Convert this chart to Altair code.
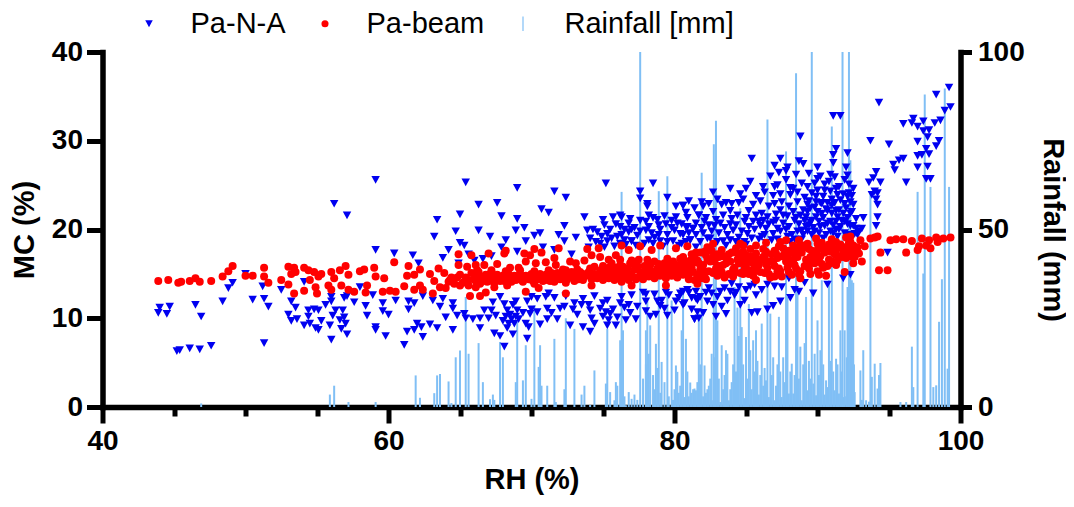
import altair as alt
import pandas as pd

# (RH %, MC %)
pa_na_left = [(43.9,10.6),(44.0,11.2),(44.5,10.5),(44.7,11.3),(45.2,6.3),(45.4,6.4),(46.1,6.6),(46.8,6.5),(47.6,6.9),(46.5,11.5),(46.9,10.2),(48.4,11.9),(48.8,13.4),(49.1,14.0),(50.0,15.0),(50.5,12.1),(51.3,12.2),(51.2,13.6),(51.6,11.3),(51.3,7.2),(52.5,13.2),(53.2,11.9),(53.5,11.2),(53.0,10.4),(53.2,9.7),(53.6,9.9),(54.1,9.2),(54.1,14.1),(54.4,10.9),(54.4,10.2),(54.5,9.4),(54.8,11.0),(55.1,10.9),(54.9,8.9),(55.1,8.7),(55.3,9.7),(55.9,9.2),(56.0,7.6),(56.1,10.3),(56.0,11.9),(56.0,12.4),(55.6,11.5),(56.3,10.9),(56.8,10.9),(56.9,10.1),(56.6,9.8),(57.0,9.4),(56.7,8.8),(57.1,8.2),(56.9,12.3),(57.1,12.5),(57.6,11.8),(58.0,13.5),(58.4,11.4),(58.5,10.3),(58.9,12.6),(59.1,9.0),(59.1,8.7),(59.6,11.7),(59.6,10.8),(60.0,10.4),(59.8,8.0),(60.5,12.0),(56.2,22.9),(57.1,21.6),(59.1,25.6),(59.1,17.7),(60.4,17.3)]
pa_na_mid_top = [(65.4,25.3),(69.0,24.7),(71.6,24.3),(72.4,23.6),(75.2,25.2),(77.6,24.3),(78.5,25.2),(77.6,23.5),(78.1,22.9),(78.1,22.6),(79.5,23.6),(66.3,22.8),(67.6,23.0),(70.7,22.3),(71.2,21.9),(67.9,21.5),(65.0,21.7),(63.4,21.1),(69.0,21.2),(73.7,21.4),(75.7,21.4),(76.2,21.6),(76.3,21.4),(76.8,20.7),(77.6,21.0),(78.0,20.9),(78.8,21.1),(79.3,21.5),(80.1,21.4),(80.1,22.6),(80.6,22.7),(80.8,21.9),(81.7,21.6),(63.2,19.2),(64.7,19.8),(66.3,19.9),(67.1,19.2),(68.9,19.9),(69.5,20.2),(70.2,19.3),(70.6,19.6),(72.3,20.4),(71.9,19.4),(72.3,18.7),(73.1,19.1),(73.9,19.9),(74.6,19.7),(75.1,20.5),(75.3,19.5),(75.3,18.7),(76.2,20.3),(76.3,19.4),(76.8,19.7),(77.0,18.7),(78.0,19.9),(78.4,19.6),(78.6,19.1),(78.9,20.5),(79.5,18.6),(80.0,19.9),(80.6,19.4),(80.9,20.3),(81.5,19.4),(65.0,18.5),(65.3,18.2),(64.2,17.7),(61.7,17.1),(62.1,16.2),(68.2,18.8),(67.9,18.0),(69.6,18.7),(66.6,16.7),(64.9,16.2),(71.6,17.7),(74.1,19.0),(74.8,18.4),(76.2,18.4),(77.0,18.7),(78.2,18.8),(79.5,19.4),(81.1,18.8),(81.5,18.0),(74.3,20.0),(74.9,19.2),(75.8,18.1),(76.6,18.3),(77.4,19.3),(77.9,18.4),(78.9,19.4),(79.2,18.1),(79.9,18.7),(80.3,18.2),(80.5,20.6),(81.3,20.1)]
pa_na_mid_low = [(61.1,7.0),(61.3,8.5),(61.8,8.7),(62.0,9.4),(62.3,9.0),(62.9,9.3),(62.4,7.9),(63.4,8.9),(64.5,8.7),(61.4,11.9),(61.4,11.0),(61.8,11.7),(62.4,12.5),(63.1,12.0),(63.6,11.3),(63.8,12.2),(64.0,10.1),(64.5,11.7),(64.5,11.1),(64.8,10.3),(65.3,10.5),(65.4,10.0),(65.9,9.9),(66.4,10.0),(66.4,8.9),(67.0,10.0),(67.5,10.3),(67.4,8.3),(67.8,8.0),(68.1,6.8),(68.3,8.9),(68.7,8.2),(66.7,10.9),(67.3,11.8),(67.8,12.4),(68.3,10.9),(68.5,10.4),(68.8,9.4),(69.0,10.9),(68.9,11.9),(69.7,11.9),(69.6,9.4),(69.8,9.0),(69.7,7.7),(69.9,10.5),(70.4,12.2),(70.4,10.7),(70.6,9.3),(71.1,11.1),(71.1,9.9),(71.8,9.9),(71.2,12.8),(71.6,12.3),(72.3,11.3),(72.7,9.2),(73.0,11.7),(73.5,11.5),(73.6,9.0),(74.1,10.9),(74.1,8.5),(74.2,10.0),(74.8,11.1),(74.4,12.5),(75.3,12.0),(75.3,9.2),(75.5,10.5),(75.9,9.2),(76.2,11.7),(76.6,9.8),(76.8,11.5),(77.3,9.9),(77.4,11.3),(78.0,11.9),(78.3,10.2),(78.7,10.4),(78.8,11.9),(79.3,11.1),(79.5,10.3),(80.0,10.9),(80.6,11.5),(81.4,9.9),(81.7,10.0),(81.5,12.2),(68.2,10.2),(68.6,9.9),(68.4,9.4),(68.7,11.5),(70.0,11.0),(72.0,11.1),(72.9,11.0),(74.0,11.5),(75.2,10.7),(75.4,9.8),(75.7,11.0),(76.3,12.4),(77.0,12.6),(77.8,12.9),(78.6,12.7),(79.6,12.6),(80.3,12.3),(81.0,12.9)]
pa_na_right_top = [(99.2,36.0),(98.3,35.2),(99.3,33.8),(94.3,34.3),(98.9,33.4),(91.1,32.8),(91.6,32.8),(96.7,32.5),(96.0,31.9),(96.6,32.0),(97.4,32.2),(97.0,31.6),(97.4,31.1),(97.8,31.2),(98.2,32.0),(98.6,32.3),(97.7,30.4),(98.5,30.0),(98.3,29.4),(97.0,29.9),(97.6,29.1),(97.3,28.4),(97.0,28.3),(97.8,28.5),(88.8,30.5),(93.7,30.0),(95.0,29.6),(91.3,29.1),(91.1,28.4),(92.1,28.6),(85.4,28.0),(87.4,28.0),(88.7,27.7),(91.1,27.5),(96.0,28.0),(95.7,27.8),(95.3,27.3),(95.4,26.7),(97.0,27.0),(97.7,27.1),(87.0,27.2),(87.9,27.0),(87.8,26.6),(87.3,26.4),(89.4,26.3),(90.2,26.0),(90.9,26.2),(91.2,25.9),(92.1,26.1),(94.1,26.5),(93.9,25.8),(94.4,25.3),(93.6,25.3),(96.2,25.3),(97.6,25.7),(97.9,25.7),(89.8,25.2),(90.5,25.1),(91.5,24.8),(92.2,25.1),(92.5,24.6),(88.1,24.7),(86.2,24.8),(87.0,24.8),(82.7,24.2),(84.6,24.0),(85.7,23.8),(81.9,23.1),(84.8,23.4),(87.0,22.9),(87.4,24.0),(88.1,23.9),(88.6,23.1),(83.3,22.8),(80.6,22.7),(89.3,22.8),(90.9,24.3),(89.9,23.7),(92.1,23.7),(94.2,22.8),(94.0,24.3),(94.2,24.1),(93.8,23.9),(94.1,23.4),(94.2,21.4),(94.1,20.4),(93.2,21.3),(93.1,20.1),(92.5,22.8),(92.4,22.0),(92.3,23.1)]
pa_na_right_band = [(82.7,22.0),(83.9,22.1),(85.2,22.1),(86.1,21.8),(87.4,22.2),(87.6,21.6),(86.5,21.4),(88.5,21.3),(89.2,21.4),(89.5,22.4),(89.9,23.1),(90.4,21.3),(91.4,21.4),(91.8,21.8),(80.9,21.3),(81.7,21.6),(82.2,21.3),(82.9,21.1),(83.4,21.6),(84.4,21.6),(85.7,21.6),(80.8,20.3),(81.3,20.1),(82.0,19.6),(82.6,19.8),(83.2,20.7),(83.7,19.4),(84.3,20.5),(84.7,19.8),(85.2,20.3),(85.9,20.9),(86.4,20.1),(87.2,20.1),(88.0,20.3),(88.6,19.8),(89.2,20.3),(89.6,19.4),(90.1,20.9),(90.9,19.8),(91.6,20.3),(92.2,19.4),(92.7,20.1),(81.1,18.8),(81.8,18.6),(82.5,19.0),(83.6,18.2),(84.3,18.6),(85.4,19.0),(86.1,19.2),(86.8,18.8),(89.0,19.4),(89.8,19.8),(89.4,20.5),(90.7,20.7),(91.3,20.9),(87.9,19.2),(87.4,19.8),(84.7,18.2),(89.0,22.2),(89.6,21.0),(90.0,22.0),(90.3,22.9),(90.6,22.3),(91.0,21.8),(91.2,23.0),(91.5,22.2),(91.9,22.9),(92.1,21.3),(90.2,20.3),(90.6,19.4),(91.1,20.5),(91.9,20.9),(92.3,20.4),(88.3,22.0),(88.8,21.6),(86.9,20.8),(85.5,20.9),(84.9,20.9),(83.9,20.6),(82.4,20.5),(81.5,20.7),(89.9,18.9),(91.4,19.2),(92.8,19.4),(88.4,18.9),(83.0,18.6),(85.9,18.9)]
pa_na_right_low = [(94.9,17.4),(81.4,9.9),(81.6,10.7),(82.0,10.6),(82.9,10.2),(83.6,10.5),(81.6,12.0),(80.7,11.7),(82.7,11.5),(83.3,11.3),(83.7,12.0),(82.6,12.8),(81.5,13.0),(83.0,12.4),(83.9,13.0),(84.0,13.9),(84.6,11.5),(84.9,12.0),(85.0,13.2),(85.7,12.6),(85.4,10.6),(85.8,10.7),(86.5,11.0),(86.9,11.4),(87.4,11.9),(88.1,12.3),(88.4,13.2),(88.7,13.0),(87.5,13.5),(86.5,13.8),(89.7,12.8),(89.1,14.0),(90.7,13.8),(91.8,14.5),(92.3,14.9),(85.6,13.8),(80.6,13.0),(80.9,13.2),(81.8,12.4),(82.3,11.9),(83.2,13.0),(84.5,13.5),(88.0,14.5)]
pa_na_fill = [(75.0,21.1),(75.5,20.0),(75.9,20.6),(76.5,20.0),(76.9,21.2),(77.2,20.2),(77.6,19.8),(78.2,20.3),(78.5,21.3),(79.0,20.0),(79.4,20.6),(79.8,20.2),(80.2,20.7),(80.4,19.5),(80.8,18.6),(81.0,19.6),(81.9,20.2),(82.3,19.0),(82.8,20.4),(83.1,19.6),(83.5,20.2),(83.9,18.8),(84.1,19.9),(84.5,19.1),(84.9,18.6),(85.1,19.5),(85.6,20.0),(86.0,20.4),(86.3,19.4),(86.6,20.6),(86.9,19.5),(87.1,21.0),(87.6,20.7),(87.8,20.0),(88.2,19.4),(88.4,21.0),(88.7,20.6),(88.9,19.9),(89.1,21.0),(89.3,19.8),(89.5,20.8),(89.7,20.2),(89.9,21.4),(90.1,19.6),(90.3,21.8),(90.5,20.4),(90.7,22.1),(90.9,20.9),(91.1,19.6),(91.3,22.1),(91.5,20.0),(91.7,21.0),(91.9,19.6),(92.1,20.6),(92.3,21.8),(92.5,20.4),(92.6,19.5),(89.4,23.2),(90.0,24.4),(90.4,23.7),(90.7,23.0),(91.0,23.4),(91.4,23.9),(91.8,24.0),(92.0,22.4),(74.5,18.6),(75.1,18.0),(75.6,19.0),(76.0,19.2),(76.5,18.8),(77.3,18.2),(78.5,18.4),(79.0,18.7),(80.5,18.4),(83.4,18.7),(85.0,18.3),(86.4,18.5),(87.2,18.9),(88.1,18.6),(88.9,18.9),(90.4,19.0),(69.4,10.6),(68.9,10.2),(68.0,9.7),(69.1,9.9),(71.4,10.6),(73.2,10.4),(74.4,9.4),(75.0,10.2),(76.0,10.1),(76.9,10.6),(78.0,10.8),(79.1,12.0),(80.1,11.9),(81.2,11.0),(82.2,12.9),(84.2,12.6),(86.1,13.2),(87.0,13.6),(66.0,16.5),(63.8,16.8),(65.6,17.2),(67.2,17.0),(69.0,17.5),(70.8,18.0),(72.8,17.2),(74.0,18.0)]
pa_na_upper_cloud = [(82.0,22.6),(83.0,23.4),(84.0,22.9),(84.5,23.0),(85.0,24.6),(85.5,22.8),(86.0,23.2),(86.3,24.2),(86.6,22.6),(86.9,23.8),(87.2,25.0),(87.5,23.1),(87.8,25.6),(88.0,22.6),(88.3,24.6),(88.6,24.2),(88.9,25.2),(89.1,23.6),(89.3,24.8),(89.6,24.1),(89.8,22.5),(90.0,25.7),(90.2,23.0),(90.5,24.4),(90.8,25.4),(91.0,22.7),(91.3,24.6),(91.6,23.3),(91.9,25.6),(92.2,24.1),(92.4,23.8),(81.0,23.2),(81.4,22.4),(82.4,22.9),(83.6,23.0),(79.8,21.0),(78.2,21.6),(77.0,20.0),(88.5,26.2),(86.7,26.0),(85.3,25.4),(83.9,24.6),(89.0,27.4),(90.0,27.0),(92.0,27.0),(92.7,21.2),(92.9,19.8),(82.1,20.9),(84.0,21.2),(85.0,21.3),(86.2,21.0),(87.1,21.7),(87.9,21.5),(89.3,22.0),(91.3,20.0),(83.5,13.4),(84.3,12.9),(85.3,13.6),(82.4,13.4),(81.2,12.3),(80.4,12.8),(79.4,12.9),(79.0,11.4),(78.0,12.7),(76.5,11.2),(75.0,11.7),(73.6,12.2),(72.4,12.5),(71.0,12.4),(70.0,12.4),(68.1,11.6),(67.2,10.9)]

pa_beam_left = [(43.9,14.2),(44.6,14.3),(45.3,14.0),(45.5,14.1),(46.1,14.2),(46.5,14.5),(46.8,14.1),(47.6,14.2),(48.4,14.7),(48.8,15.3),(49.1,15.9),(50.0,14.8),(50.5,14.8),(51.3,15.7),(51.3,14.7),(51.6,14.0),(52.5,14.3),(53.0,13.8),(53.4,12.8),(54.1,13.1),(53.0,15.8),(53.2,15.0),(53.5,15.2),(53.4,15.7),(54.1,15.7),(54.4,15.4),(54.8,15.2),(54.5,14.3),(54.9,13.5),(55.0,12.8),(55.1,14.7),(55.3,15.0),(55.8,13.7),(56.0,13.2),(56.0,15.2),(56.2,14.5),(56.6,15.4),(56.7,13.7),(57.0,15.9),(57.2,14.9),(57.2,13.2),(57.6,13.0),(58.0,15.3),(58.3,15.5),(58.5,13.7),(58.4,12.9),(59.0,15.7),(59.1,14.7),(59.7,14.5),(59.6,13.0),(60.1,13.1),(60.5,13.0),(60.4,16.3)]
pa_beam_mid_spread = [(61.4,15.9),(61.3,14.8),(61.1,13.6),(61.8,14.9),(62.2,15.5),(62.2,13.7),(61.8,13.2),(62.4,13.2),(62.9,15.0),(63.5,15.6),(63.9,15.1),(63.2,14.2),(63.1,12.8),(63.6,13.5),(64.3,14.3),(64.9,17.2),(64.9,16.0),(65.8,17.1),(65.5,15.8),(66.1,16.0),(66.3,15.2),(67.0,17.3),(67.6,16.1),(66.7,16.0),(67.1,15.0),(65.6,14.3),(65.0,13.7),(65.7,12.5),(66.4,12.5),(66.8,12.9),(66.1,13.5),(66.5,14.1),(67.4,13.5),(67.8,14.5),(68.2,17.6),(68.1,17.3),(68.5,15.7),(69.1,15.7),(68.3,13.7),(68.9,14.3),(69.5,17.3),(69.6,16.4),(69.6,13.0),(70.2,17.8),(69.9,17.1),(70.7,17.4),(70.3,16.2),(71.0,16.3),(70.2,14.5),(70.5,13.4),(71.1,14.3),(71.6,16.8),(71.9,17.9),(71.7,16.0),(71.8,14.7),(72.4,15.4),(72.4,12.8),(72.7,16.4),(73.1,16.2),(73.0,14.7),(73.6,15.0),(73.9,17.8),(73.7,16.5),(74.2,17.1),(74.7,17.9),(74.8,16.9),(74.4,15.8),(74.2,13.7),(75.1,14.7),(75.4,16.6),(75.9,17.1),(76.3,18.2),(76.2,16.6),(76.8,17.7),(76.9,16.2),(75.8,14.7),(76.3,14.1),(77.0,13.7),(77.6,18.1),(77.5,16.6),(78.1,16.6),(78.4,17.7),(79.0,18.2),(79.0,15.8),(78.2,14.9),(79.4,13.7),(79.5,16.7),(80.1,17.9),(80.9,18.1),(80.4,16.7),(81.4,16.9),(80.9,15.4),(81.4,14.3)]
pa_beam_band_a = [(64.0,13.4),(64.2,14.1),(64.4,14.6),(64.6,13.9),(64.8,14.6),(65.0,14.9),(65.2,14.0),(65.4,14.6),(65.6,13.7),(65.8,15.1),(66.0,14.4),(66.2,14.8),(66.4,13.9),(66.6,14.6),(66.8,14.9),(67.0,14.2),(67.2,14.7),(67.4,14.0),(67.6,14.9),(67.8,14.2),(68.0,14.8),(68.2,14.4),(68.4,15.0),(68.6,14.1),(68.8,14.8),(69.0,14.4),(69.2,15.0),(69.4,14.1),(69.6,14.8),(69.8,14.4),(70.0,15.0),(70.2,13.9),(70.4,14.6),(70.6,15.0),(70.8,14.2),(71.0,14.9),(71.2,14.5),(71.4,15.1),(71.6,14.1),(71.8,15.1),(72.0,14.4),(72.2,15.0),(72.4,14.0),(72.6,14.8),(72.8,15.2),(73.0,14.2),(73.2,14.8),(73.4,15.2),(73.6,14.3),(73.8,14.9),(74.0,15.2),(74.2,14.4),(74.4,15.0),(74.6,14.5),(74.8,15.3),(75.0,14.3),(75.2,15.1),(75.4,14.5),(75.6,15.3),(75.8,14.3),(76.0,15.0),(76.2,15.4),(76.4,14.5),(76.6,15.2),(76.8,14.3),(77.0,15.0),(77.2,15.5),(77.4,14.6),(77.6,15.2),(77.8,14.4),(78.0,15.5),(78.2,14.7),(78.4,15.3),(78.6,14.5),(78.8,15.6),(79.0,14.8),(79.2,15.2),(79.4,14.5),(79.6,15.6),(79.8,14.8),(80.0,15.3),(80.2,14.6),(80.4,15.7),(80.6,14.9),(80.8,16.1),(81.0,15.0),(81.2,15.7),(81.4,16.3),(81.6,14.9),(81.8,15.5)]
pa_beam_band_b = [(75.0,15.9),(75.6,16.2),(76.4,15.8),(77.2,16.1),(77.9,15.9),(78.6,16.4),(79.3,16.2),(79.9,16.4),(80.6,16.9),(81.2,17.2),(81.8,17.4),(82.0,16.0),(82.2,17.1),(82.4,15.3),(82.6,17.6),(82.8,16.4),(83.0,14.8),(83.2,15.8),(83.4,17.0),(83.6,16.2),(83.8,15.0),(84.0,17.4),(84.2,15.7),(84.4,16.6),(84.6,15.1),(84.8,17.5),(85.0,16.0),(85.2,15.0),(85.4,17.0),(85.6,15.6),(85.8,16.6),(86.0,15.2),(86.2,17.8),(86.4,16.1),(86.6,15.0),(86.8,17.2),(87.0,15.9),(87.2,16.8),(87.4,15.3),(87.6,17.9),(87.8,16.4),(88.0,15.2),(88.2,17.4),(88.4,16.0),(88.6,16.9),(88.8,15.3),(89.0,18.2),(89.2,16.6),(89.4,15.6),(89.6,17.6),(89.8,16.2),(90.0,18.4),(90.2,17.0),(90.4,15.7),(90.6,17.9),(90.8,16.6),(91.0,18.1),(91.2,17.2),(91.4,16.5),(91.6,18.3),(91.8,17.4),(92.0,16.8),(92.2,18.5),(92.4,17.6),(92.6,16.9),(92.8,18.0),(82.3,18.0),(83.3,17.7),(84.3,17.9),(85.3,17.8),(86.3,17.0),(87.3,18.1),(88.3,18.2),(89.3,18.4),(90.3,18.5),(91.3,18.6),(92.3,18.6),(92.9,17.3),(83.1,16.9),(85.1,16.7),(87.5,17.0),(89.5,16.9),(90.9,17.5),(91.9,18.0)]
pa_beam_band_c = [(66.1,14.2),(66.5,14.5),(66.9,14.1),(67.3,14.4),(67.7,14.6),(68.1,14.2),(68.5,14.5),(68.9,14.7),(69.3,14.3),(69.7,14.6),(70.1,14.2),(70.5,14.4),(70.9,14.7),(71.3,14.2),(71.7,14.6),(72.1,14.8),(72.5,14.4),(72.9,14.6),(73.3,14.4),(73.7,14.7),(74.1,14.8),(74.5,14.9),(74.9,14.7),(75.3,14.8),(75.7,14.7),(76.1,14.5),(76.5,14.9),(76.9,14.7),(77.3,14.4),(77.7,14.9),(78.1,15.0),(78.5,14.9),(78.9,15.1),(79.3,14.8),(79.7,15.2),(80.1,15.0),(80.5,15.3),(80.9,15.6),(81.3,15.2),(81.7,16.2),(82.1,15.0),(82.5,16.4),(82.9,15.6),(83.3,15.2),(83.7,16.6),(84.1,15.5),(84.5,16.2),(84.9,15.6),(85.3,16.4),(85.7,15.4),(86.1,16.6),(86.5,15.7),(86.9,16.4),(87.3,15.6),(87.7,17.2),(88.1,16.2),(88.5,15.6),(88.9,17.4),(89.3,16.0),(89.7,17.0),(90.1,16.6),(90.5,17.4),(90.9,16.2),(91.3,17.7),(91.7,16.9),(92.1,17.9),(92.5,17.2),(81.0,14.4),(81.9,14.5),(82.2,14.4),(83.5,14.6),(84.1,14.7),(84.8,15.0),(85.5,14.8),(86.3,15.1),(86.7,14.6),(87.5,14.7),(88.2,14.9),(88.7,15.0),(89.5,15.0),(90.0,15.3),(77.0,16.5),(78.3,16.0),(79.2,15.9),(79.8,15.8),(80.3,16.0),(80.7,16.4),(81.1,16.5),(81.5,17.4),(82.1,17.5),(83.0,17.2),(83.9,16.4),(84.7,16.9),(85.5,16.2),(86.2,16.9),(87.1,17.3),(88.0,17.6),(88.7,18.0),(89.4,17.8),(90.2,18.0),(76.7,15.6),(75.9,15.7),(74.9,15.5),(74.1,15.6),(73.2,15.5),(72.2,15.5),(71.2,15.4),(70.2,15.3),(69.2,15.4),(68.2,15.3),(67.2,15.4),(66.2,15.4)]
pa_beam_band_d = [(82.0,15.4),(82.7,15.1),(83.4,16.0),(84.2,15.2),(84.9,16.2),(85.2,15.4),(85.9,16.0),(86.6,16.4),(87.2,15.3),(87.9,15.7),(88.3,16.6),(88.6,17.3),(89.1,15.9),(89.6,16.3),(89.9,17.4),(90.3,16.1),(90.7,15.9),(91.0,16.4),(91.5,17.0),(92.0,17.4),(92.3,17.0),(92.7,17.6),(83.8,17.2),(84.4,17.3),(85.0,17.1),(85.7,17.3),(86.4,17.5),(87.0,17.6),(87.9,17.0),(88.5,17.7),(89.2,18.0),(90.0,17.7),(90.8,18.3),(91.5,18.0),(92.5,18.2),(75.4,15.7),(76.2,16.0),(77.4,15.9),(78.2,15.6),(78.9,16.1),(79.6,16.0),(80.0,15.9),(80.6,15.6),(81.1,16.0),(81.6,16.5),(82.3,16.6),(82.7,16.9),(83.1,15.9)]
pa_beam_right = [(94.2,19.2),(93.7,19.0),(94.0,19.1),(95.1,18.8),(95.5,18.9),(96.0,18.9),(96.6,18.7),(97.3,19.0),(97.8,18.8),(98.3,19.1),(98.8,19.0),(99.3,19.1),(97.0,17.7),(97.1,18.1),(97.6,18.2),(97.9,17.9),(98.4,18.6),(96.2,17.4),(94.4,17.4),(94.3,15.4),(94.9,15.4),(93.3,18.1),(93.1,16.4),(92.5,16.2),(91.9,15.2),(91.3,16.0),(90.6,14.8),(90.1,14.9),(93.0,18.8),(92.3,19.2),(82.7,18.4),(84.6,18.4),(84.8,18.2),(85.7,18.2),(86.4,18.5),(87.4,18.6),(87.8,18.8),(88.7,18.8),(89.9,19.0),(91.0,18.9),(92.0,19.1),(85.7,14.3),(87.0,14.7),(88.8,14.5),(81.6,13.9)]

# (RH %, rainfall mm)
rain_left = [(46.9,1.0),(55.9,3.5),(56.2,6.0),(57.2,1.4),(59.1,1.4),(61.9,8.9),(62.2,2.6),(63.2,3.9),(63.4,8.9),(63.6,9.3),(64.2,7.2),(64.4,1.1),(64.7,14.0),(65.0,15.9),(65.4,31.0),(65.6,15.0),(66.3,18.0),(66.6,7.0),(67.1,2.2),(67.3,3.5),(67.4,2.0),(67.8,18.3),(68.0,14.0),(68.9,7.0),(69.0,24.0),(69.4,7.5),(69.6,17.4),(70.0,2.3),(70.2,28.6),(70.5,11.3),(70.6,17.4),(70.7,6.0),(71.1,6.0),(71.6,19.2),(71.7,1.4),(72.3,5.0),(72.4,25.0),(73.0,22.0),(73.5,3.5),(73.7,6.0),(74.1,0.6),(74.4,10.3),(75.2,6.6),(75.3,22.0),(75.5,4.2),(75.8,1.9),(75.9,7.0),(76.2,18.8),(76.3,60.6),(76.4,21.6),(76.6,0.5),(76.8,4.2),(77.0,2.3),(77.6,100.0),(78.0,21.6),(78.1,30.0),(78.3,23.0),(78.7,17.8),(78.9,60.8),(79.1,12.7),(79.5,65.0),(79.8,30.0),(80.1,11.7),(80.2,9.9)]
rain_mid = [(80.6,33.0),(80.8,19.2),(81.1,6.9),(81.3,5.0),(81.5,4.7),(81.7,7.0),(80.5,21.6),(81.4,5.2),(81.6,7.0),(81.7,26.3),(81.9,66.0),(82.1,11.7),(82.5,8.0),(82.75,74.0),(82.9,80.6),(83.0,24.4),(83.3,17.4),(83.6,16.0),(83.7,15.0),(84.0,7.0),(84.2,33.8),(84.4,28.0),(84.6,56.0),(84.7,22.5),(85.0,19.7),(85.2,29.0),(85.5,18.8),(85.7,21.6),(86.1,23.5),(86.4,7.5),(86.5,81.0),(86.7,26.3),(87.3,25.4),(87.6,14.0),(87.8,72.0),(87.9,31.0),(88.2,12.2),(88.5,94.0),(88.6,33.8),(88.8,17.0),(89.2,31.0),(89.4,13.0),(89.6,100.0),(89.7,6.6),(90.0,24.4),(90.3,35.7),(90.6,7.5),(90.8,35.7),(91.0,79.0),(91.3,13.6),(91.6,21.6),(91.75,100.0),(91.9,21.6),(92.1,33.8),(92.2,100.0),(92.3,69.5),(92.4,35.7),(92.5,35.0)]
rain_right = [(93.0,10.3),(93.2,16.0),(93.7,60.0),(93.8,8.5),(94.0,12.2),(94.4,12.4),(95.8,1.4),(96.2,1.4),(96.6,17.0),(96.7,5.6),(97.0,60.6),(97.4,37.6),(97.5,88.0),(97.9,62.0),(98.1,5.6),(98.3,6.1),(98.5,24.0),(98.7,36.0),(98.9,89.7),(99.1,10.8),(99.2,62.0)]
rain_low = [(80.7,2.8),(81.0,3.0),(82.7,1.9),(83.2,1.4),(83.8,1.9),(84.9,2.5),(85.9,3.5),(86.6,2.8),(87.0,1.9),(87.5,2.8),(88.0,3.8),(88.3,3.8),(88.9,1.9),(89.3,4.7),(89.9,3.3),(90.5,3.5),(90.7,5.6),(91.2,4.7),(91.5,3.8),(91.8,2.8),(92.0,3.0),(92.6,4.2),(93.4,1.9),(94.2,5.2)]
rain_fill = [(76.0,6.0),(76.5,3.0),(77.2,3.5),(77.4,2.0),(77.8,8.0),(78.0,12.0),(78.2,15.0),(78.5,9.0),(78.6,5.0),(78.8,11.0),(79.0,4.0),(79.3,7.0),(79.6,3.0),(79.9,2.0),(80.0,5.0),(80.3,4.0),(80.4,6.0),(80.9,10.0),(81.2,4.0),(81.8,12.0),(82.0,3.0),(82.2,4.0),(82.3,5.0),(82.4,6.0),(82.6,15.0),(82.8,14.0),(83.1,8.0),(83.4,5.0),(83.5,9.0),(83.9,5.0),(84.1,12.0),(84.3,10.0),(84.5,20.0),(84.8,12.0),(85.1,8.0),(85.3,16.0),(85.4,5.0),(85.6,10.0),(85.8,13.0),(86.0,9.0),(86.2,6.0),(86.3,11.0),(86.8,9.0),(86.9,14.0),(87.1,6.0),(87.2,12.0),(87.4,10.0),(87.7,7.0),(88.1,10.0),(88.4,9.0),(88.7,8.0),(89.0,12.0),(89.1,18.0),(89.5,8.0),(89.8,15.0),(90.1,9.0),(90.2,16.0),(90.4,12.0),(90.9,13.0),(91.1,10.0),(91.4,12.0),(91.7,10.0),(92.05,14.0),(92.15,22.0),(92.35,18.0),(92.45,30.0),(92.55,12.0),(93.1,2.0),(93.6,1.5),(94.3,9.0)]

pts = pd.DataFrame(
    pa_na_left + pa_na_mid_low + pa_na_mid_top + pa_na_right_low + pa_na_right_band + pa_na_right_top + pa_na_fill + pa_na_upper_cloud,
    columns=["rh", "mc"]).assign(series="Pa-N-A")
red = pd.DataFrame(
    pa_beam_left + pa_beam_mid_spread + pa_beam_band_a + pa_beam_band_b + pa_beam_band_c + pa_beam_band_d + pa_beam_right,
    columns=["rh", "mc"]).assign(series="Pa-beam")
points = pd.concat([pts, red], ignore_index=True)
rain = pd.DataFrame(rain_left + rain_mid + rain_right + rain_low + rain_fill, columns=["rh", "mm"]).assign(series="Rainfall [mm]", base=0)

FONT = "Liberation Sans"
names = ["Pa-N-A", "Pa-beam", "Rainfall [mm]"]
colors = ["#0000f0", "#ff0000", "#80bff5"]
shapes = ["M-1.06,-0.96H1.06L0,0.96Z", "circle", "M-0.17,-2.05H0.17V2.05H-0.17Z"]
cscale = alt.Scale(domain=names, range=colors)
legend = alt.Legend(orient="none", legendX=32, legendY=-43, direction="horizontal", columns=3,
                    title=None, labelFont=FONT, labelFontSize=29, labelColor="black",
                    labelOffset=27, symbolSize=50, symbolStrokeWidth=0, columnPadding=24,
                    symbolOpacity=1, labelLimit=400)

x = alt.X("rh:Q", scale=alt.Scale(domain=[40, 100], nice=False),
          axis=alt.Axis(title="RH (%)", values=list(range(40, 101, 5)),
                        labelExpr="datum.value % 20 == 0 ? datum.label : ''",
                        tickSize={"condition": {"test": "datum.value % 20 == 0", "value": 16}, "value": 9},
                        tickWidth=5, domainWidth=5.5, domainColor="black", tickColor="black", grid=False,
                        labelFont=FONT, labelFontWeight="bold", labelFontSize=28, labelColor="black",
                        labelPadding=4, labelOverlap=False, labelFlush=False, domainCap="square",
                        titleFont=FONT, titleFontWeight="bold", titleFontSize=29, titleColor="black", titlePadding=10))

rain_layer = alt.Chart(rain).mark_rule(strokeWidth=2).encode(
    x=x,
    y=alt.Y("mm:Q", scale=alt.Scale(domain=[0, 100], nice=False),
            axis=alt.Axis(orient="right", title="Rainfall (mm)", values=[0, 50, 100],
                          tickSize=11, tickWidth=5, domainWidth=5.5, domainColor="black", tickColor="black", grid=False,
                          labelFont=FONT, labelFontWeight="bold", labelFontSize=28, labelColor="black", labelPadding=6,
                          domainCap="square", titleAngle=90,
                          titleFont=FONT, titleFontWeight="bold", titleFontSize=29, titleColor="black", titlePadding=13)),
    y2="base:Q",
    color=alt.Color("series:N", scale=cscale, legend=legend),
)

point_layer = alt.Chart(points).mark_point(filled=True, size=64, opacity=1).encode(
    x=x,
    y=alt.Y("mc:Q", scale=alt.Scale(domain=[0, 40], nice=False),
            axis=alt.Axis(orient="left", title="MC (%)", values=[0, 10, 20, 30, 40],
                          tickSize=16, tickWidth=5, domainWidth=5.5, domainColor="black", tickColor="black", grid=False,
                          labelFont=FONT, labelFontWeight="bold", labelFontSize=28, labelColor="black", labelPadding=4,
                          domainCap="square",
                          titleFont=FONT, titleFontWeight="bold", titleFontSize=29, titleColor="black", titlePadding=12)),
    color=alt.Color("series:N", scale=cscale, legend=legend),
    shape=alt.Shape("series:N", scale=alt.Scale(domain=names, range=shapes), legend=legend),
)

chart = alt.layer(rain_layer, point_layer).resolve_scale(y="independent").properties(
    width=858, height=355,
    autosize=alt.AutoSizeParams(type="none", contains="content"),
    padding={"left": 94.5, "top": 44, "right": 105, "bottom": 91},
).configure_view(stroke=None)

chart.save("out.html", embed_options={"renderer": "svg", "actions": False})
